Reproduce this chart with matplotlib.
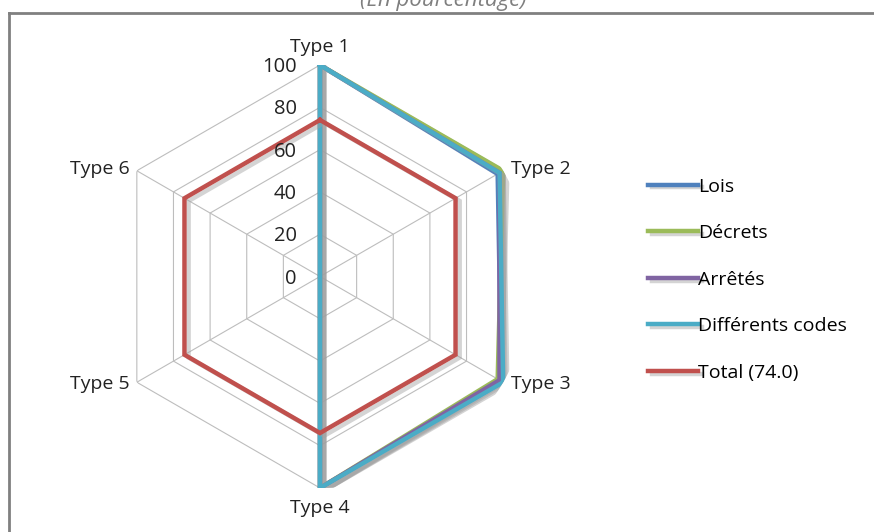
import numpy as np
import matplotlib
matplotlib.use("Agg")
import matplotlib.pyplot as plt
import matplotlib.patheffects as pe
from matplotlib.transforms import offset_copy
from matplotlib.lines import Line2D

plt.rcParams['font.family'] = ['Open Sans', 'DejaVu Sans']

categories = ["Type 1", "Type 2", "Type 3", "Type 4", "Type 5", "Type 6"]
lois = [100, 97, 99, 100, 0, 0]
decrets = [100, 100, 97, 100, 0, 0]
arretes = [100, 98, 98, 100, 0, 0]
codes = [100, 98, 100, 100, 0, 0]
total = [74, 74, 74, 74, 74, 74]
series_names = ["Lois", "Décrets", "Arrêtés", "Différents codes", "Total (74.0)"]
series_vals = [lois, decrets, arretes, codes, total]
colors = ["#4F81BD", "#9BBB59", "#8064A2", "#4BACC6", "#C0504D"]
rticks = [0, 20, 40, 60, 80, 100]

W, H = 874, 532
fig = plt.figure(figsize=(W / 100, H / 100), dpi=100)

# frame (only top and left edges visible)
fig.add_artist(Line2D([9 / W, 1], [1 - 13 / H, 1 - 13 / H], color="#808080", lw=2, transform=fig.transFigure))
fig.add_artist(Line2D([9 / W, 9 / W], [0, 1 - 13 / H], color="#808080", lw=2, transform=fig.transFigure))
# title, mostly cut off at the top like in the source
fig.text(443 / W, 1 - 6 / H, "(En pourcentage)", ha="center", va="baseline",
         fontsize=16, style="italic", color="#7f7f7f")

cx, cy, R = 320, 276.5, 211.5
ax = fig.add_axes([(cx - R) / W, (H - cy - R) / H, 2 * R / W, 2 * R / H], projection="polar")
ax.set_theta_offset(np.pi / 2)
ax.set_theta_direction(-1)
ax.set_ylim(0, 100)
ax.axis("off")

n = len(categories)
angles = np.linspace(0, 2 * np.pi, n, endpoint=False)
closed = np.append(angles, angles[0])

# hexagonal grid
for r in rticks[1:]:
    ax.plot(closed, [r] * (n + 1), color="#bdbdbd", lw=0.8, zorder=1)
for a in angles:
    ax.plot([a, a], [0, 100], color="#bdbdbd", lw=0.8, zorder=1)

shadow = [pe.SimpleLineShadow(offset=(3, -2), shadow_color="#a0a0a0", alpha=0.45), pe.Normal()]
for name, vals, c in zip(series_names, series_vals, colors):
    v = np.append(vals, vals[0])
    ax.plot(closed, v, color=c, lw=3.2, label=name, zorder=3, path_effects=shadow,
            solid_joinstyle="miter")

# radial tick labels
tr = offset_copy(ax.transData, fig=fig, x=-23, y=-2, units="dots")
for r in rticks:
    ax.text(0, r, str(r), transform=tr, ha="right", va="center", fontsize=14.5, color="#222222")

# category labels
offs = [(0, 9, "center", "bottom"), (8, 2, "left", "center"), (8, -2, "left", "center"),
        (0, -11, "center", "top"), (-7, -2, "right", "center"), (-7, 2, "right", "center")]
for a, lab, (dx, dy, ha, va) in zip(angles, categories, offs):
    t = offset_copy(ax.transData, fig=fig, x=dx, y=dy, units="dots")
    ax.text(a, 100, lab, transform=t, ha=ha, va=va, fontsize=14, color="#222222")

fig.legend(loc="upper left", bbox_to_anchor=(630 / W, 1 - 160 / H), frameon=False,
           handlelength=2.6, handletextpad=0.0, labelspacing=1.47, fontsize=14)

fig.savefig("out.png", dpi=100, facecolor="white")
